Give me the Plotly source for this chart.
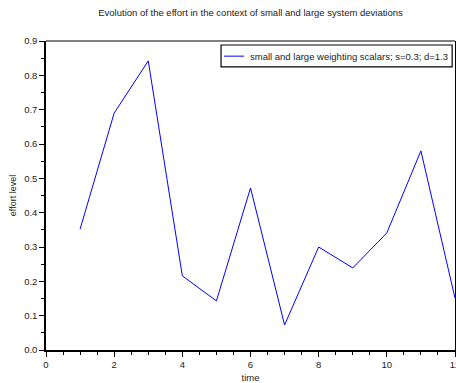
import plotly.graph_objects as go

time = [1, 2, 3, 4, 5, 6, 7, 8, 9, 10, 11, 12]
effort = [0.352, 0.690, 0.842, 0.216, 0.143, 0.472, 0.073, 0.300, 0.239, 0.341, 0.580, 0.151]
series_name = "small and large weighting scalars; s=0.3; d=1.3"

x_ticks = [0, 2, 4, 6, 8, 10, 12]
y_ticks = [0.0, 0.1, 0.2, 0.3, 0.4, 0.5, 0.6, 0.7, 0.8, 0.9]
y_labels = ["0.0", "0.1", "0.2", "0.3", "0.4", "0.5", "0.6", "0.7", "0.8", "0.9"]

line_color = "#0000ff"

fig = go.Figure()
fig.add_trace(go.Scatter(
    x=time, y=effort, mode="lines",
    line=dict(color=line_color, width=1),
    name=series_name, showlegend=False,
))

font = "Liberation Sans, Arial, sans-serif"
fig.update_layout(
    width=456, height=383,
    margin=dict(l=46, r=1, t=41, b=33, autoexpand=False),
    paper_bgcolor="white", plot_bgcolor="white",
    font=dict(family=font, size=9.5, color="#222222"),
    title=dict(text="Evolution of the effort in the context of small and large system deviations",
               xref="paper", x=0.5, xanchor="center", y=0.966, yanchor="middle",
               font=dict(size=9.5, color="#222222"), automargin=False),
    showlegend=False,
    xaxis=dict(range=[0, 12], tickvals=x_ticks, ticktext=[str(v) for v in x_ticks],
               showgrid=False, zeroline=False, automargin=False,
               ticklabeloverflow="allow",
               showline=True, linecolor="black", linewidth=1.5,
               ticks="outside", ticklen=5, tickcolor="black", tickwidth=1,
               minor=dict(dtick=0.5, ticks="outside", ticklen=3, tickcolor="black"),
               title=dict(text="time", standoff=14, font=dict(size=9.5)),
               tickfont=dict(size=9.5)),
    yaxis=dict(range=[0, 0.9], tickvals=y_ticks, ticktext=y_labels,
               showgrid=False, zeroline=False, automargin=False,
               ticklabeloverflow="allow",
               showline=True, linecolor="black", linewidth=1.5, mirror=True,
               ticks="outside", ticklen=5, tickcolor="black", tickwidth=1,
               minor=dict(dtick=0.05, ticks="outside", ticklen=3, tickcolor="black"),
               title=dict(text="effort level", standoff=6, font=dict(size=9)),
               tickfont=dict(size=9.5)),
    shapes=[
        dict(type="line", xref="paper", yref="paper", x0=0, x1=1, y0=1, y1=1,
             line=dict(color="#808080", width=2)),
        # legend box
        dict(type="rect", xref="paper", yref="paper", x0=0.428, x1=0.993, y0=0.916, y1=0.987,
             line=dict(color="black", width=1.2), fillcolor="white"),
        dict(type="line", xref="paper", yref="paper", x0=0.435, x1=0.484, y0=0.951, y1=0.951,
             line=dict(color=line_color, width=1)),
    ],
    annotations=[
        dict(text=series_name, xref="paper", yref="paper", x=0.494, y=0.951,
             xanchor="left", yanchor="middle", showarrow=False,
             font=dict(size=9.5, color="#222222")),
    ],
)

fig.write_html("out.html")
